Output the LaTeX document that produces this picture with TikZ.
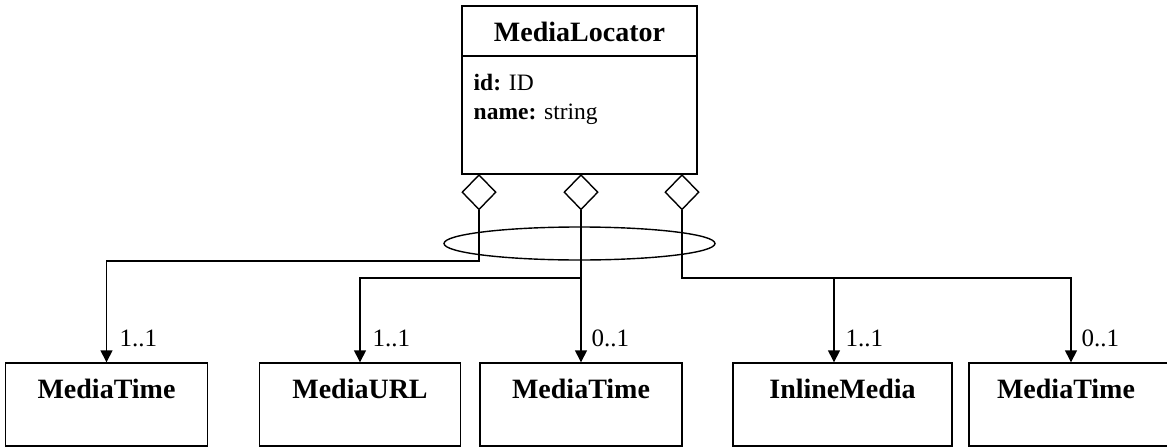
\documentclass[tikz,border=0pt]{standalone}
\usepackage{fontspec}
\setmainfont{Liberation Serif}
\usetikzlibrary{shapes.geometric,arrows.meta}
\begin{document}
\begin{tikzpicture}[x=1pt,y=-1pt,line width=1.4pt,
  box/.style={draw,rectangle,inner sep=0pt},
  diam/.style={draw,diamond,inner sep=0pt,minimum width=34pt,minimum height=35pt,anchor=north},
  arr/.style={-{Triangle[length=12pt,width=12pt]}},
  title/.style={font=\fontsize{28}{30}\selectfont\bfseries,inner sep=0pt,anchor=base},
  attr/.style={font=\fontsize{23.5}{26}\selectfont,inner sep=0pt,anchor=base west},
  mult/.style={font=\fontsize{25}{28}\selectfont,inner sep=0pt,anchor=base west}]
\useasboundingbox (0,0) rectangle (1167,447);
\clip (0,0) rectangle (1167,447);
% top class
\node[box,minimum width=235pt,minimum height=168pt] (ml) at (579.5,90) {};
\draw (462,56) -- (697,56);
\node[title] (mlt) at (579.5,41) {MediaLocator};
\node[attr] (a1) at (473,90) {\textbf{id:} ID};
\node[attr] (a2) at (473,119.5) {\textbf{name:} string};
% diamonds
\node[diam] (d1) at (479,174) {};
\node[diam] (d2) at (581,174) {};
\node[diam] (d3) at (682,174) {};
% ellipse
\node[draw,ellipse,inner sep=0pt,minimum width=271pt,minimum height=33pt] (el) at (579.5,243.5) {};
% bottom boxes
\node[box,minimum width=202pt,minimum height=83pt] (b1) at (106.5,404.5) {};
\node[box,minimum width=201pt,minimum height=83pt] (b2) at (360,404.5) {};
\node[box,minimum width=202pt,minimum height=83pt] (b3) at (581,404.5) {};
\node[box,minimum width=219pt,minimum height=83pt] (b4) at (842.5,404.5) {};
\node[box,minimum width=204pt,minimum height=83pt] (b5) at (1071,404.5) {};
\node[title] (t1) at (106.5,398) {MediaTime};
\node[title] (t2) at (360,398) {MediaURL};
\node[title] (t3) at (581,398) {MediaTime};
\node[title] (t4) at (842.5,398) {InlineMedia};
\node[title] (t5) at (1066,398) {MediaTime};
% junctions
\coordinate (j1) at (479,261);
\coordinate (j2) at (581,278);
\coordinate (j3) at (682,278);
\coordinate (j4) at (834,278);
% connectors
\draw[arr] (d1.south) -- (j1) -| (b1.north);
\draw[arr] (d2.south) -- (b3.north);
\draw[arr] (j2) -| (b2.north);
\draw[arr] (d3.south) -- (j3) -| (b5.north);
\draw[arr] (j4) -- (b4.north -| j4);
% multiplicities
\node[mult] (m1) at (119,346) {1..1};
\node[mult] (m2) at (372,346) {1..1};
\node[mult] (m3) at (591,346) {0..1};
\node[mult] (m4) at (845,346) {1..1};
\node[mult] (m5) at (1081,346) {0..1};
\end{tikzpicture}
\end{document}
